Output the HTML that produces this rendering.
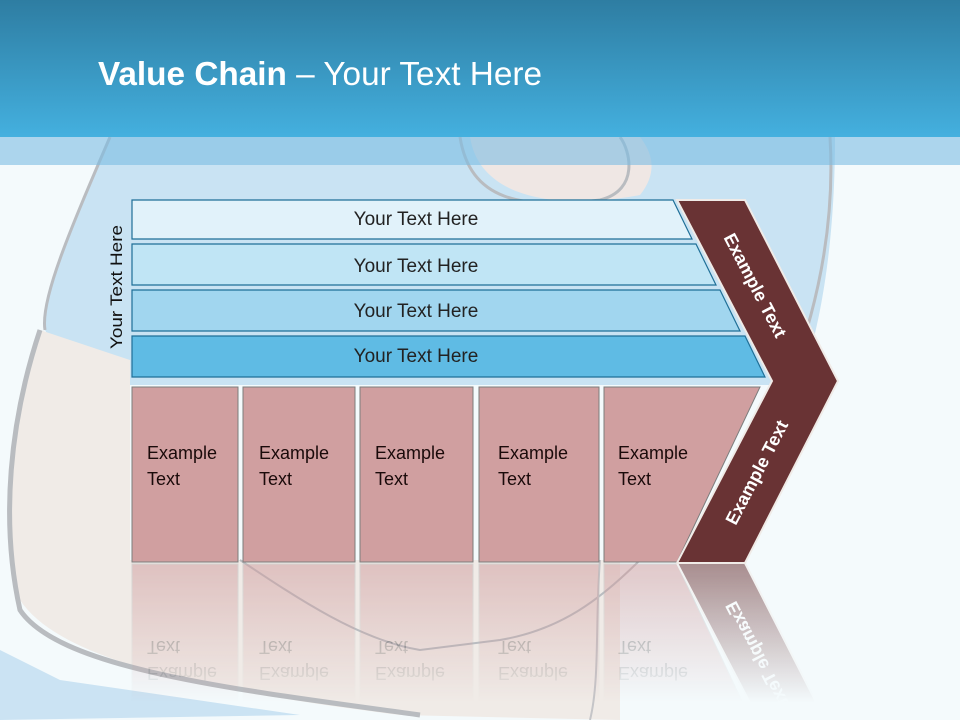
<!DOCTYPE html>
<html><head><meta charset="utf-8"><style>
html,body{margin:0;padding:0;width:960px;height:720px;overflow:hidden;background:#f4fafc}
svg{display:block}
text{font-family:"Liberation Sans",sans-serif}
</style></head><body>
<svg width="960" height="720" viewBox="0 0 960 720" xmlns="http://www.w3.org/2000/svg">
<defs>
<linearGradient id="hdr" x1="0" y1="0" x2="0" y2="1"><stop offset="0" stop-color="#2e7da2"/><stop offset="1" stop-color="#44b0df"/></linearGradient>
<linearGradient id="fade" x1="0" y1="0" x2="0" y2="1"><stop offset="0" stop-color="#fff" stop-opacity="0.55"/><stop offset="1" stop-color="#fff" stop-opacity="0"/></linearGradient>
<mask id="rm" maskUnits="userSpaceOnUse" x="0" y="563" width="960" height="157"><rect x="0" y="563" width="960" height="140" fill="url(#fade)"/></mask>
</defs>
<rect width="960" height="720" fill="#f4fafc"/>
<path d="M110 137 C70 230 40 300 45 330 C60 360 100 380 130 385 L800 385 C830 300 835 200 835 137 Z" fill="#c9e3f3"/>
<path d="M470 137 C480 200 560 210 640 195 C660 170 650 150 640 137 Z" fill="#efe7e4"/>
<path d="M40 330 C10 400 0 520 20 600 C60 660 200 690 400 715 L620 720 L620 560 L130 560 L130 360 Z" fill="#f0ebe7"/>
<path d="M0 650 L60 680 L300 715 L0 720 Z" fill="#cbe3f3"/>
<path d="M40 330 C10 420 0 520 20 610 C60 670 240 690 420 715" fill="none" stroke="#b9bcc0" stroke-width="5"/>
<path d="M110 137 C70 230 40 300 45 330" fill="none" stroke="#b9bcc0" stroke-width="3"/>
<path d="M460 137 C470 200 520 210 600 200 C640 190 630 150 620 137" fill="none" stroke="#b9bcc0" stroke-width="3"/>
<path d="M830 137 C835 220 820 300 790 380" fill="none" stroke="#b9bcc0" stroke-width="3"/>
<path d="M240 560 C300 600 360 640 420 650 L500 640 C560 630 600 600 640 560" fill="none" stroke="#b9bcc0" stroke-width="2"/>
<path d="M600 560 C595 620 600 680 590 720" fill="none" stroke="#c5c5c8" stroke-width="2"/>
<rect x="0" y="0" width="960" height="137" fill="url(#hdr)"/>
<rect x="0" y="137" width="960" height="28" fill="#7cbce3" opacity="0.6"/>
<text x="98" y="85" font-size="33" fill="#fff" textLength="444" lengthAdjust="spacingAndGlyphs"><tspan font-weight="bold">Value Chain</tspan> – Your Text Here</text>
<polygon points="132,200 673,200 692,239 132,239" fill="#e1f2fa" stroke="#1f6f97" stroke-width="1.2"/>
<polygon points="132,244 696,244 716,285 132,285" fill="#c0e5f5" stroke="#1f6f97" stroke-width="1.2"/>
<polygon points="132,290 720,290 740,331 132,331" fill="#a1d6ef" stroke="#1f6f97" stroke-width="1.2"/>
<polygon points="132,336 745,336 765,377 132,377" fill="#5fbbe4" stroke="#1f6f97" stroke-width="1.2"/>
<g font-size="19" fill="#222" text-anchor="middle">
<text x="416" y="225">Your Text Here</text>
<text x="416" y="272">Your Text Here</text>
<text x="416" y="317">Your Text Here</text>
<text x="416" y="362">Your Text Here</text>
</g>
<g fill="#d09fa0" stroke="#7d7d7d" stroke-width="1">
<rect x="132" y="387" width="106" height="175"/>
<rect x="243" y="387" width="112" height="175"/>
<rect x="360" y="387" width="113" height="175"/>
<rect x="479" y="387" width="120" height="175"/>
<polygon points="604,387 760,387 677,562 604,562"/>
</g>
<g font-size="18" fill="#1a0a0a">
<text x="147" y="459">Example</text><text x="147" y="485">Text</text>
<text x="259" y="459">Example</text><text x="259" y="485">Text</text>
<text x="375" y="459">Example</text><text x="375" y="485">Text</text>
<text x="498" y="459">Example</text><text x="498" y="485">Text</text>
<text x="618" y="459">Example</text><text x="618" y="485">Text</text>
</g>
<polygon points="677,200 745,200 838,381 745,563 677,563 772,381" fill="#693334" stroke="#f0ebe7" stroke-width="2"/>
<text transform="translate(754,286) rotate(62.5)" font-size="18" font-weight="bold" fill="#fff" text-anchor="middle" dominant-baseline="middle">Example Text</text>
<text transform="translate(758,473) rotate(-62.5)" font-size="18" font-weight="bold" fill="#fff" text-anchor="middle" dominant-baseline="middle">Example Text</text>
<g mask="url(#rm)">
<g transform="translate(0,1126) scale(1,-1)">
<g fill="#d09fa0" stroke="#bbb" stroke-width="1">
<rect x="132" y="387" width="106" height="175"/>
<rect x="243" y="387" width="112" height="175"/>
<rect x="360" y="387" width="113" height="175"/>
<rect x="479" y="387" width="120" height="175"/>
<polygon points="604,387 760,387 677,562 604,562"/>
</g>
<g font-size="18" fill="#1a0a0a">
<text x="147" y="459">Example</text><text x="147" y="485">Text</text>
<text x="259" y="459">Example</text><text x="259" y="485">Text</text>
<text x="375" y="459">Example</text><text x="375" y="485">Text</text>
<text x="498" y="459">Example</text><text x="498" y="485">Text</text>
<text x="618" y="459">Example</text><text x="618" y="485">Text</text>
</g>
<polygon points="677,381 838,381 745,563 677,563 772,381" fill="#693334" stroke="#f0ebe7" stroke-width="2"/>
<text transform="translate(758,473) rotate(-62.5)" font-size="18" font-weight="bold" fill="#fff" text-anchor="middle" dominant-baseline="middle">Example Text</text>
</g>
</g>
<text transform="translate(122,287) rotate(-90)" font-size="17" fill="#111" text-anchor="middle" textLength="124" lengthAdjust="spacingAndGlyphs">Your Text Here</text>
</svg>
</body></html>
